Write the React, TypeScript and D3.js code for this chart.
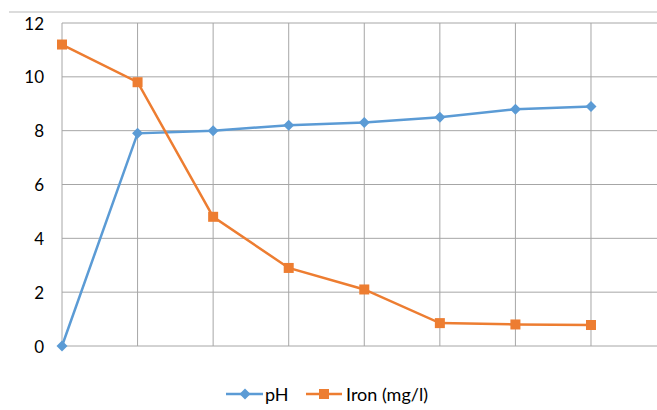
import * as d3 from "d3";

const categories = ["1", "2", "3", "4", "5", "6", "7", "8"];
const phValues = [0, 7.9, 8.0, 8.2, 8.3, 8.5, 8.8, 8.9];
const ironValues = [11.2, 9.8, 4.8, 2.9, 2.1, 0.85, 0.8, 0.78];
const yTicks = [0, 2, 4, 6, 8, 10, 12];

const W = 657;
const H = 410;
const FONT = "Lato, 'Open Sans', sans-serif";
const PH_COLOR = "#5B9BD5";
const IRON_COLOR = "#ED7D31";
const GRID = "#A6A6A6";

const diamond = (cx: number, cy: number, key?: string) => (
  <path
    key={key}
    d={`M${cx},${cy - 5.5}L${cx + 5.5},${cy}L${cx},${cy + 5.5}L${cx - 5.5},${cy}Z`}
    fill={PH_COLOR}
  />
);
const square = (cx: number, cy: number, key?: string) => (
  <rect key={key} x={cx - 5} y={cy - 5} width={10} height={10} fill={IRON_COLOR} />
);

const App = () => {
  const margin = { top: 23, left: 62, bottom: 64 };
  const step = 75.57;
  const x = d3
    .scalePoint<string>()
    .domain(categories)
    .range([margin.left, margin.left + step * (categories.length - 1)]);
  const y = d3.scaleLinear().domain([0, 12]).range([H - margin.bottom, margin.top]);
  const right = margin.left + step * categories.length;

  const line = d3
    .line<number>()
    .x((_, i) => x(categories[i]) as number)
    .y((v) => y(v));

  return (
    <svg
      width={W}
      height={H}
      style={{ position: "absolute", left: 0, top: 0, background: "#fff" }}
    >
      <line x1={9} x2={W} y1={12} y2={12} stroke="#D0D0D0" strokeWidth={1.5} />
      {/* grid */}
      {yTicks.map((t) => (
        <line key={"h" + t} x1={margin.left} x2={right} y1={y(t)} y2={y(t)} stroke={GRID} />
      ))}
      {categories.map((c) => (
        <line key={"v" + c} x1={x(c)} x2={x(c)} y1={y(12)} y2={y(0)} stroke={GRID} />
      ))}
      {yTicks.map((t) => (
        <text
          key={"t" + t}
          x={44}
          y={y(t)}
          textAnchor="end"
          dominantBaseline="central"
          fontFamily={FONT}
          fontSize={17}
          fill="#000"
        >
          {t}
        </text>
      ))}
      {/* series */}
      <path d={line(phValues) ?? ""} fill="none" stroke={PH_COLOR} strokeWidth={2.5} />
      <path d={line(ironValues) ?? ""} fill="none" stroke={IRON_COLOR} strokeWidth={2.5} />
      {phValues.map((v, i) => diamond(x(categories[i]) as number, y(v), "p" + i))}
      {ironValues.map((v, i) => square(x(categories[i]) as number, y(v), "i" + i))}
      {/* legend */}
      <line x1={226} x2={263} y1={394} y2={394} stroke={PH_COLOR} strokeWidth={2.5} />
      {diamond(245, 394)}
      <text x={265} y={394} dominantBaseline="central" fontFamily={FONT} fontSize={18}>
        pH
      </text>
      <line x1={306} x2={342} y1={394} y2={394} stroke={IRON_COLOR} strokeWidth={2.5} />
      {square(324, 394)}
      <text x={346} y={394} dominantBaseline="central" fontFamily={FONT} fontSize={18}>
        Iron (mg/l)
      </text>
    </svg>
  );
};

export default App;
